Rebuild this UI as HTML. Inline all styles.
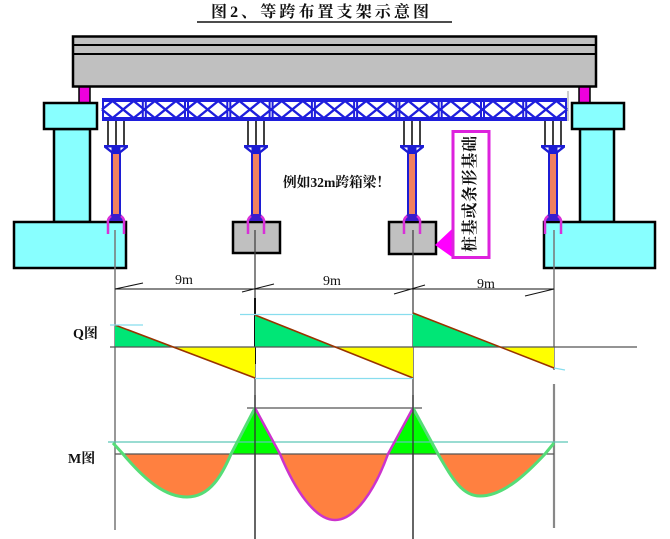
<!DOCTYPE html>
<html><head><meta charset="utf-8"><style>
html,body{margin:0;padding:0;background:#fff;}
svg{display:block;}
.serif{font-family:"Liberation Serif","Noto Serif CJK SC",serif;}
.sans{font-family:"Liberation Sans","Noto Sans CJK SC",sans-serif;}
</style></head><body>
<svg width="670" height="539" viewBox="0 0 670 539" xmlns="http://www.w3.org/2000/svg">
<rect width="670" height="539" fill="#fff"/>

<!-- Title -->
<text x="211" y="17" class="serif" font-size="16" font-weight="bold" fill="#111" textLength="218" lengthAdjust="spacing">图2、等跨布置支架示意图</text>
<line x1="197" y1="22" x2="452" y2="22" stroke="#111" stroke-width="1.5"/>

<!-- Box girder -->
<rect x="73" y="36.5" width="523" height="50" fill="#c0c0c0" stroke="#000" stroke-width="2.5"/>
<line x1="73" y1="45" x2="596" y2="45" stroke="#000" stroke-width="2"/>
<line x1="73" y1="54" x2="596" y2="54" stroke="#000" stroke-width="2"/>

<!-- Bearings -->
<rect x="79" y="87" width="11" height="16" fill="#ee00dd" stroke="#000" stroke-width="1.5"/>
<rect x="579" y="87" width="11" height="16" fill="#ee00dd" stroke="#000" stroke-width="1.5"/>

<!-- Abutments left -->
<rect x="54" y="129" width="36" height="93" fill="#88ffff" stroke="#000" stroke-width="2.5"/>
<rect x="44" y="103" width="53" height="26" fill="#88ffff" stroke="#000" stroke-width="2.5"/>
<rect x="14" y="222" width="112" height="46" fill="#88ffff" stroke="#000" stroke-width="2.5"/>
<!-- Abutments right -->
<rect x="580" y="129" width="34" height="93" fill="#88ffff" stroke="#000" stroke-width="2.5"/>
<rect x="572" y="103" width="52" height="26" fill="#88ffff" stroke="#000" stroke-width="2.5"/>
<rect x="544" y="222" width="111" height="46" fill="#88ffff" stroke="#000" stroke-width="2.5"/>

<line x1="568" y1="91" x2="568" y2="121" stroke="#999" stroke-width="1"/>

<!-- Truss -->
<g stroke="#1e1edc" fill="none">
<rect x="102" y="98" width="465" height="4" fill="#1e1edc" stroke="none"/>
<rect x="102" y="117" width="465" height="4" fill="#1e1edc" stroke="none"/>
<polyline stroke-width="2.4" points="102,109.5 112.6,101 123.1,109.5 133.7,101 144.3,109.5 154.8,101 165.4,109.5 176,101 186.5,109.5 197.1,101 207.7,109.5 218.2,101 228.8,109.5 239.4,101 249.9,109.5 260.5,101 271.1,109.5 281.7,101 292.2,109.5 302.8,101 313.4,109.5 323.9,101 334.5,109.5 345.1,101 355.6,109.5 366.2,101 376.8,109.5 387.3,101 397.9,109.5 408.5,101 419,109.5 429.6,101 440.2,109.5 450.8,101 461.3,109.5 471.9,101 482.5,109.5 493,101 503.6,109.5 514.2,101 524.7,109.5 535.3,101 545.9,109.5 556.4,101 567,109.5"/>
<polyline stroke-width="2.4" points="102,109.5 112.6,118 123.1,109.5 133.7,118 144.3,109.5 154.8,118 165.4,109.5 176,118 186.5,109.5 197.1,118 207.7,109.5 218.2,118 228.8,109.5 239.4,118 249.9,109.5 260.5,118 271.1,109.5 281.7,118 292.2,109.5 302.8,118 313.4,109.5 323.9,118 334.5,109.5 345.1,118 355.6,109.5 366.2,118 376.8,109.5 387.3,118 397.9,109.5 408.5,118 419,109.5 429.6,118 440.2,109.5 450.8,118 461.3,109.5 471.9,118 482.5,109.5 493,118 503.6,109.5 514.2,118 524.7,109.5 535.3,118 545.9,109.5 556.4,118 567,109.5"/>
<g stroke-width="2">
<line x1="103" y1="98" x2="103" y2="121"/>
<line x1="142.8" y1="98" x2="142.8" y2="121"/><line x1="145.8" y1="98" x2="145.8" y2="121"/>
<line x1="185" y1="98" x2="185" y2="121"/><line x1="188" y1="98" x2="188" y2="121"/>
<line x1="227.3" y1="98" x2="227.3" y2="121"/><line x1="230.3" y1="98" x2="230.3" y2="121"/>
<line x1="269.6" y1="98" x2="269.6" y2="121"/><line x1="272.6" y1="98" x2="272.6" y2="121"/>
<line x1="311.9" y1="98" x2="311.9" y2="121"/><line x1="314.9" y1="98" x2="314.9" y2="121"/>
<line x1="354.1" y1="98" x2="354.1" y2="121"/><line x1="357.1" y1="98" x2="357.1" y2="121"/>
<line x1="396.4" y1="98" x2="396.4" y2="121"/><line x1="399.4" y1="98" x2="399.4" y2="121"/>
<line x1="438.7" y1="98" x2="438.7" y2="121"/><line x1="441.7" y1="98" x2="441.7" y2="121"/>
<line x1="481" y1="98" x2="481" y2="121"/><line x1="484" y1="98" x2="484" y2="121"/>
<line x1="523.2" y1="98" x2="523.2" y2="121"/><line x1="526.2" y1="98" x2="526.2" y2="121"/>
<line x1="566" y1="98" x2="566" y2="121"/>
</g>
</g>

<!-- Gray foundation blocks -->
<rect x="233" y="222" width="47" height="31" fill="#c0c0c0" stroke="#000" stroke-width="2.5"/>
<rect x="389" y="222" width="47" height="32" fill="#c0c0c0" stroke="#000" stroke-width="2.5"/>

<!-- Vertical reference lines -->
<line x1="115" y1="230" x2="115" y2="530" stroke="#777" stroke-width="1.5"/>
<line x1="255" y1="230" x2="255" y2="539" stroke="#444" stroke-width="1.3"/>
<line x1="413" y1="230" x2="413" y2="539" stroke="#444" stroke-width="1.3"/>
<line x1="554" y1="230" x2="554" y2="370" stroke="#777" stroke-width="1.5"/>
<line x1="554" y1="384" x2="554" y2="528" stroke="#888" stroke-width="2.2"/>

<!-- Columns -->
<g id="cols">
<!-- col 1 cx=116 -->
<g stroke="#111" stroke-width="1.6"><line x1="108" y1="121" x2="108" y2="146"/><line x1="116" y1="121" x2="116" y2="146"/><line x1="124" y1="121" x2="124" y2="146"/></g>
<polygon points="104,145 128,145 128,147.5 121,153 111,153 104,147.5" fill="#1c1cd4"/>
<polygon points="108,147.5 111.5,147.5 111.5,150.5" fill="#fff"/><polygon points="124,147.5 120.5,147.5 120.5,150.5" fill="#fff"/>
<rect x="111" y="152" width="10" height="66" fill="#1c1cd4"/>
<rect x="113" y="154" width="6" height="62" fill="#f08060"/>
<polygon points="111,214 121,214 124,221 108,221" fill="#3a1ccc"/>
<path d="M111,216 Q107,219 108,224 L108,234 M121,216 Q125,219 124,224 L124,234" stroke="#d830d8" stroke-width="2.5" fill="none"/>
<!-- col 2 cx=256 -->
<g stroke="#111" stroke-width="1.6"><line x1="248" y1="121" x2="248" y2="146"/><line x1="256" y1="121" x2="256" y2="146"/><line x1="264" y1="121" x2="264" y2="146"/></g>
<polygon points="244,145 268,145 268,147.5 261,153 251,153 244,147.5" fill="#1c1cd4"/>
<polygon points="248,147.5 251.5,147.5 251.5,150.5" fill="#fff"/><polygon points="264,147.5 260.5,147.5 260.5,150.5" fill="#fff"/>
<rect x="251" y="152" width="10" height="66" fill="#1c1cd4"/>
<rect x="253" y="154" width="6" height="62" fill="#f08060"/>
<polygon points="251,214 261,214 264,221 248,221" fill="#3a1ccc"/>
<path d="M251,216 Q247,219 248,224 L248,234 M261,216 Q265,219 264,224 L264,234" stroke="#d830d8" stroke-width="2.5" fill="none"/>
<!-- col 3 cx=412 -->
<g stroke="#111" stroke-width="1.6"><line x1="404" y1="121" x2="404" y2="146"/><line x1="412" y1="121" x2="412" y2="146"/><line x1="420" y1="121" x2="420" y2="146"/></g>
<polygon points="400,145 424,145 424,147.5 417,153 407,153 400,147.5" fill="#1c1cd4"/>
<polygon points="404,147.5 407.5,147.5 407.5,150.5" fill="#fff"/><polygon points="420,147.5 416.5,147.5 416.5,150.5" fill="#fff"/>
<rect x="407" y="152" width="10" height="66" fill="#1c1cd4"/>
<rect x="409" y="154" width="6" height="62" fill="#f08060"/>
<polygon points="407,214 417,214 420,221 404,221" fill="#3a1ccc"/>
<path d="M407,216 Q403,219 404,224 L404,234 M417,216 Q421,219 420,224 L420,234" stroke="#d830d8" stroke-width="2.5" fill="none"/>
<!-- col 4 cx=553 -->
<g stroke="#111" stroke-width="1.6"><line x1="545" y1="121" x2="545" y2="146"/><line x1="553" y1="121" x2="553" y2="146"/><line x1="561" y1="121" x2="561" y2="146"/></g>
<polygon points="541,145 565,145 565,147.5 558,153 548,153 541,147.5" fill="#1c1cd4"/>
<polygon points="545,147.5 548.5,147.5 548.5,150.5" fill="#fff"/><polygon points="561,147.5 557.5,147.5 557.5,150.5" fill="#fff"/>
<rect x="548" y="152" width="10" height="66" fill="#1c1cd4"/>
<rect x="550" y="154" width="6" height="62" fill="#f08060"/>
<polygon points="548,214 558,214 561,221 545,221" fill="#3a1ccc"/>
<path d="M548,216 Q544,219 545,224 L545,234 M558,216 Q562,219 561,224 L561,234" stroke="#d830d8" stroke-width="2.5" fill="none"/>
</g>

<!-- Callout -->
<polygon points="452,229 435,245 452,257" fill="#ff00ff"/>
<rect x="453" y="131.5" width="36" height="126" fill="#fff" stroke="#dd22dd" stroke-width="3"/>
<text transform="translate(475,252) rotate(-90)" class="serif" font-size="16" font-weight="bold" fill="#111" textLength="116" lengthAdjust="spacing">桩基或条形基础</text>

<text x="283" y="187" class="serif" font-size="14" font-weight="bold" fill="#111" textLength="107" lengthAdjust="spacingAndGlyphs">例如32m跨箱梁！</text>

<!-- Dimension line -->
<line x1="115" y1="289" x2="554" y2="289" stroke="#111" stroke-width="1"/>
<g stroke="#111" stroke-width="1">
<line x1="115" y1="289" x2="143" y2="283"/>
<line x1="242" y1="292" x2="274" y2="284"/>
<line x1="394" y1="294" x2="425" y2="285"/>
<line x1="525" y1="296" x2="554" y2="289"/>
</g>
<g class="serif" font-size="14" fill="#111">
<text x="175" y="284">9m</text>
<text x="323" y="285">9m</text>
<text x="477" y="288">9m</text>
</g>

<!-- Q diagram -->
<text x="73" y="338" class="serif" font-size="14" font-weight="bold" fill="#111">Q图</text>
<line x1="255" y1="298" x2="255" y2="364" stroke="#111" stroke-width="2"/>
<polygon points="115,325 115,347 173,347" fill="#00e676"/>
<polygon points="173,347 255,347 255,378" fill="#ffff00"/>
<polygon points="255,315 255,347 335,347" fill="#00e676"/>
<polygon points="335,347 413,347 413,378" fill="#ffff00"/>
<polygon points="413,313 413,347 499,347" fill="#00e676"/>
<polygon points="499,347 554,347 554,368" fill="#ffff00"/>
<line x1="110" y1="347" x2="637" y2="347" stroke="#555" stroke-width="1.3"/>
<g stroke="#993300" stroke-width="1.6">
<line x1="115" y1="325" x2="255" y2="378"/>
<line x1="255" y1="315" x2="413" y2="378"/>
<line x1="413" y1="313" x2="554" y2="368"/>
</g>
<g stroke="#88ddee" stroke-width="1.2">
<line x1="110" y1="325" x2="143" y2="325"/>
<line x1="240" y1="314.5" x2="413" y2="314.5"/>
<line x1="255" y1="378.5" x2="413" y2="378.5"/>
<line x1="554" y1="368" x2="565" y2="370"/>
</g>

<!-- M diagram -->
<text x="68" y="463" class="serif" font-size="14" font-weight="bold" fill="#111">M图</text>
<line x1="247" y1="408" x2="422" y2="408" stroke="#555" stroke-width="1.2"/>
<path d="M123,454 C145,480 165,497 187,497 C210,497 222,475 231,454 Z" fill="#ff8040"/>
<path d="M280,454 C295,490 315,520 335,520 C355,520 375,490 388,454 Z" fill="#ff8040"/>
<path d="M438,454 C452,478 462,496 480,496 C505,496 530,470 545,454 Z" fill="#ff8040"/>
<polygon points="231,454 255,408 280,454" fill="#00ff00"/>
<polygon points="388,454 413,408 438,454" fill="#00ff00"/>
<line x1="115" y1="454" x2="554" y2="454" stroke="#555" stroke-width="1.3"/>
<line x1="108" y1="442" x2="568" y2="442" stroke="#5cc8b8" stroke-width="1.2"/>
<path d="M113,443 L123,454 C145,480 165,497 187,497 C210,497 222,475 231,454 L255,408" stroke="#55dd77" stroke-width="3" fill="none"/>
<path d="M255,408 L280,454 C295,490 315,520 335,520 C355,520 375,490 388,454 L413,408" stroke="#cc33cc" stroke-width="2.5" fill="none"/>
<path d="M413,408 L438,454 C452,478 462,496 480,496 C505,496 530,470 545,454 L554,443" stroke="#55dd77" stroke-width="3" fill="none"/>
<line x1="255" y1="395" x2="255" y2="539" stroke="#333" stroke-width="1.3"/>
<line x1="413" y1="395" x2="413" y2="539" stroke="#333" stroke-width="1.3"/>
</svg>
</body></html>
